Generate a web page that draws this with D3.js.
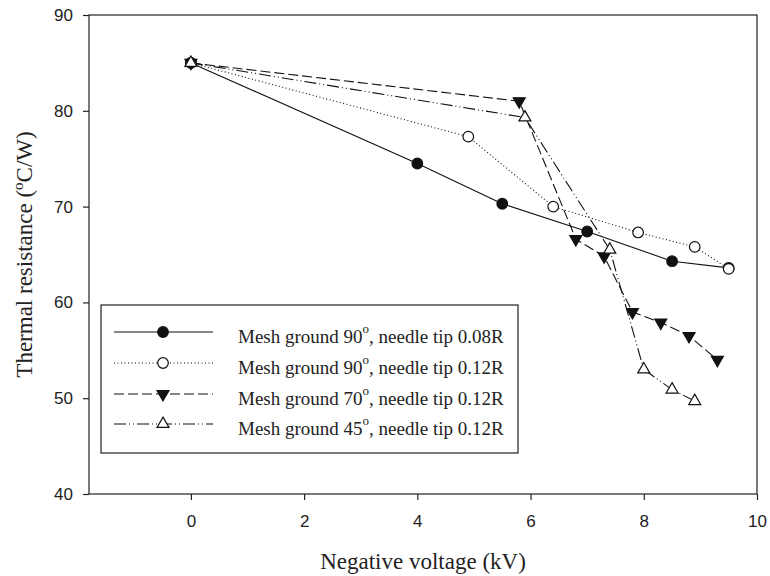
<!DOCTYPE html>
<html>
<head>
<meta charset="utf-8">
<script src="https://cdn.jsdelivr.net/npm/d3@7"></script>
<style>
  body { margin: 0; background: #fff; }
  svg text { fill: #222; }
</style>
</head>
<body>
<div id="chart"></div>
<script>
// Data
const xTicks = [0, 2, 4, 6, 8, 10];
const yTicks = [40, 50, 60, 70, 80, 90];

const mesh90tip008X = [0, 4, 5.5, 7, 8.5, 9.5];
const mesh90tip008Y = [85, 74.5, 70.3, 67.4, 64.3, 63.6];

const mesh90tip012X = [0, 4.9, 6.4, 7.9, 8.9, 9.5];
const mesh90tip012Y = [85, 77.3, 70, 67.3, 65.8, 63.5];

const mesh70tip012X = [0, 5.8, 6.8, 7.3, 7.8, 8.3, 8.8, 9.3];
const mesh70tip012Y = [85, 81, 66.6, 64.8, 59, 57.9, 56.5, 54];

const mesh45tip012X = [0, 5.9, 7.4, 8.0, 8.5, 8.9];
const mesh45tip012Y = [85, 79.3, 65.5, 53, 50.9, 49.7];

const seriesNames = ["90", "90", "70", "45"];
const seriesTips = ["0.08R", "0.12R", "0.12R", "0.12R"];

// Chart geometry
const width = 770, height = 576;
const margin = {left: 89, top: 15, right: 13, bottom: 82};

const svg = d3.select("#chart").append("svg")
    .attr("width", width)
    .attr("height", height);

const x = d3.scaleLinear().domain([-1.8, 10]).range([margin.left, width - margin.right]);
const y = d3.scaleLinear().domain([40, 90]).range([height - margin.bottom, margin.top]);

// Series styles
const series = [
    {xs: mesh90tip008X, ys: mesh90tip008Y, dash: null, marker: "circle", fill: "#111"},
    {xs: mesh90tip012X, ys: mesh90tip012Y, dash: "1,2.5", marker: "circle", fill: "#fff"},
    {xs: mesh70tip012X, ys: mesh70tip012Y, dash: "10,4", marker: "triDown", fill: "#111"},
    {xs: mesh45tip012X, ys: mesh45tip012Y, dash: "12,3,1,3,1,3", marker: "triUp", fill: "#fff"}
];

// Frame
svg.append("rect")
    .attr("x", x.range()[0])
    .attr("y", y.range()[1])
    .attr("width", x.range()[1] - x.range()[0])
    .attr("height", y.range()[0] - y.range()[1])
    .attr("fill", "none")
    .attr("stroke", "#222")
    .attr("stroke-width", 1.2);

// Axes
const xAxis = svg.append("g")
    .attr("transform", "translate(0," + y.range()[0] + ")")
    .call(d3.axisBottom(x).tickValues(xTicks).tickSize(6).tickPadding(15).tickSizeOuter(0));
const yAxis = svg.append("g")
    .attr("transform", "translate(" + x.range()[0] + ",0)")
    .call(d3.axisLeft(y).tickValues(yTicks).tickSize(6).tickPadding(10).tickSizeOuter(0));

[xAxis, yAxis].forEach(function(a){
    a.select(".domain").remove();
    a.selectAll(".tick line").attr("stroke", "#222").attr("stroke-width", 1.2);
    a.selectAll(".tick text")
        .attr("font-family", "Liberation Sans, Arial, sans-serif")
        .attr("font-size", 17)
        .attr("fill", "#222");
});

// Axis titles
svg.append("text")
    .attr("x", 423)
    .attr("y", 569)
    .attr("text-anchor", "middle")
    .attr("font-family", "Liberation Serif, Times New Roman, serif")
    .attr("font-size", 23)
    .text("Negative voltage (kV)");

const yTitle = svg.append("text")
    .attr("transform", "translate(32," + y(65) + ") rotate(-90)")
    .attr("text-anchor", "middle")
    .attr("font-family", "Liberation Serif, Times New Roman, serif")
    .attr("font-size", 23);
yTitle.append("tspan").text("Thermal resistance (");
yTitle.append("tspan").attr("font-size", 15).attr("dy", -9).text("o");
yTitle.append("tspan").attr("dy", 9).text("C/W)");

// Marker drawing
function drawMarker(g, kind, fill, cx, cy) {
    if (kind === "circle") {
        g.append("circle")
            .attr("cx", cx).attr("cy", cy).attr("r", 5.3)
            .attr("fill", fill).attr("stroke", "#111").attr("stroke-width", 1.2);
    } else {
        const rot = kind === "triDown" ? 180 : 0;
        g.append("path")
            .attr("d", d3.symbol().type(d3.symbolTriangle).size(62)())
            .attr("transform", "translate(" + cx + "," + cy + ") rotate(" + rot + ")")
            .attr("fill", fill).attr("stroke", "#111").attr("stroke-width", 1.2);
    }
}

// Lines and markers
const line = d3.line().x(function(d){ return x(d[0]); }).y(function(d){ return y(d[1]); });
const plotG = svg.append("g");
series.forEach(function(s){
    const pts = s.xs.map(function(v, i){ return [v, s.ys[i]]; });
    plotG.append("path")
        .attr("d", line(pts))
        .attr("fill", "none")
        .attr("stroke", "#111")
        .attr("stroke-width", 1.1)
        .attr("stroke-dasharray", s.dash);
});
series.forEach(function(s){
    s.xs.forEach(function(v, i){
        drawMarker(plotG, s.marker, s.fill, x(v), y(s.ys[i]));
    });
});

// Legend
const legend = svg.append("g");
legend.append("rect")
    .attr("x", 101).attr("y", 305)
    .attr("width", 417).attr("height", 148)
    .attr("fill", "#fff")
    .attr("stroke", "#222")
    .attr("stroke-width", 1.2);

const rowY = [332, 363, 394, 424];
series.forEach(function(s, i){
    legend.append("line")
        .attr("x1", 114).attr("x2", 213)
        .attr("y1", rowY[i]).attr("y2", rowY[i])
        .attr("stroke", "#111")
        .attr("stroke-width", 1.1)
        .attr("stroke-dasharray", s.dash);
    drawMarker(legend, s.marker, s.fill, 163, rowY[i]);
    const t = legend.append("text")
        .attr("x", 238).attr("y", rowY[i] + 11)
        .attr("font-family", "Liberation Serif, Times New Roman, serif")
        .attr("font-size", 19);
    t.append("tspan").text("Mesh ground " + seriesNames[i]);
    t.append("tspan").attr("font-size", 13).attr("dy", -10).text("o");
    t.append("tspan").attr("dy", 10).text(", needle tip " + seriesTips[i]);
});
</script>
</body>
</html>
